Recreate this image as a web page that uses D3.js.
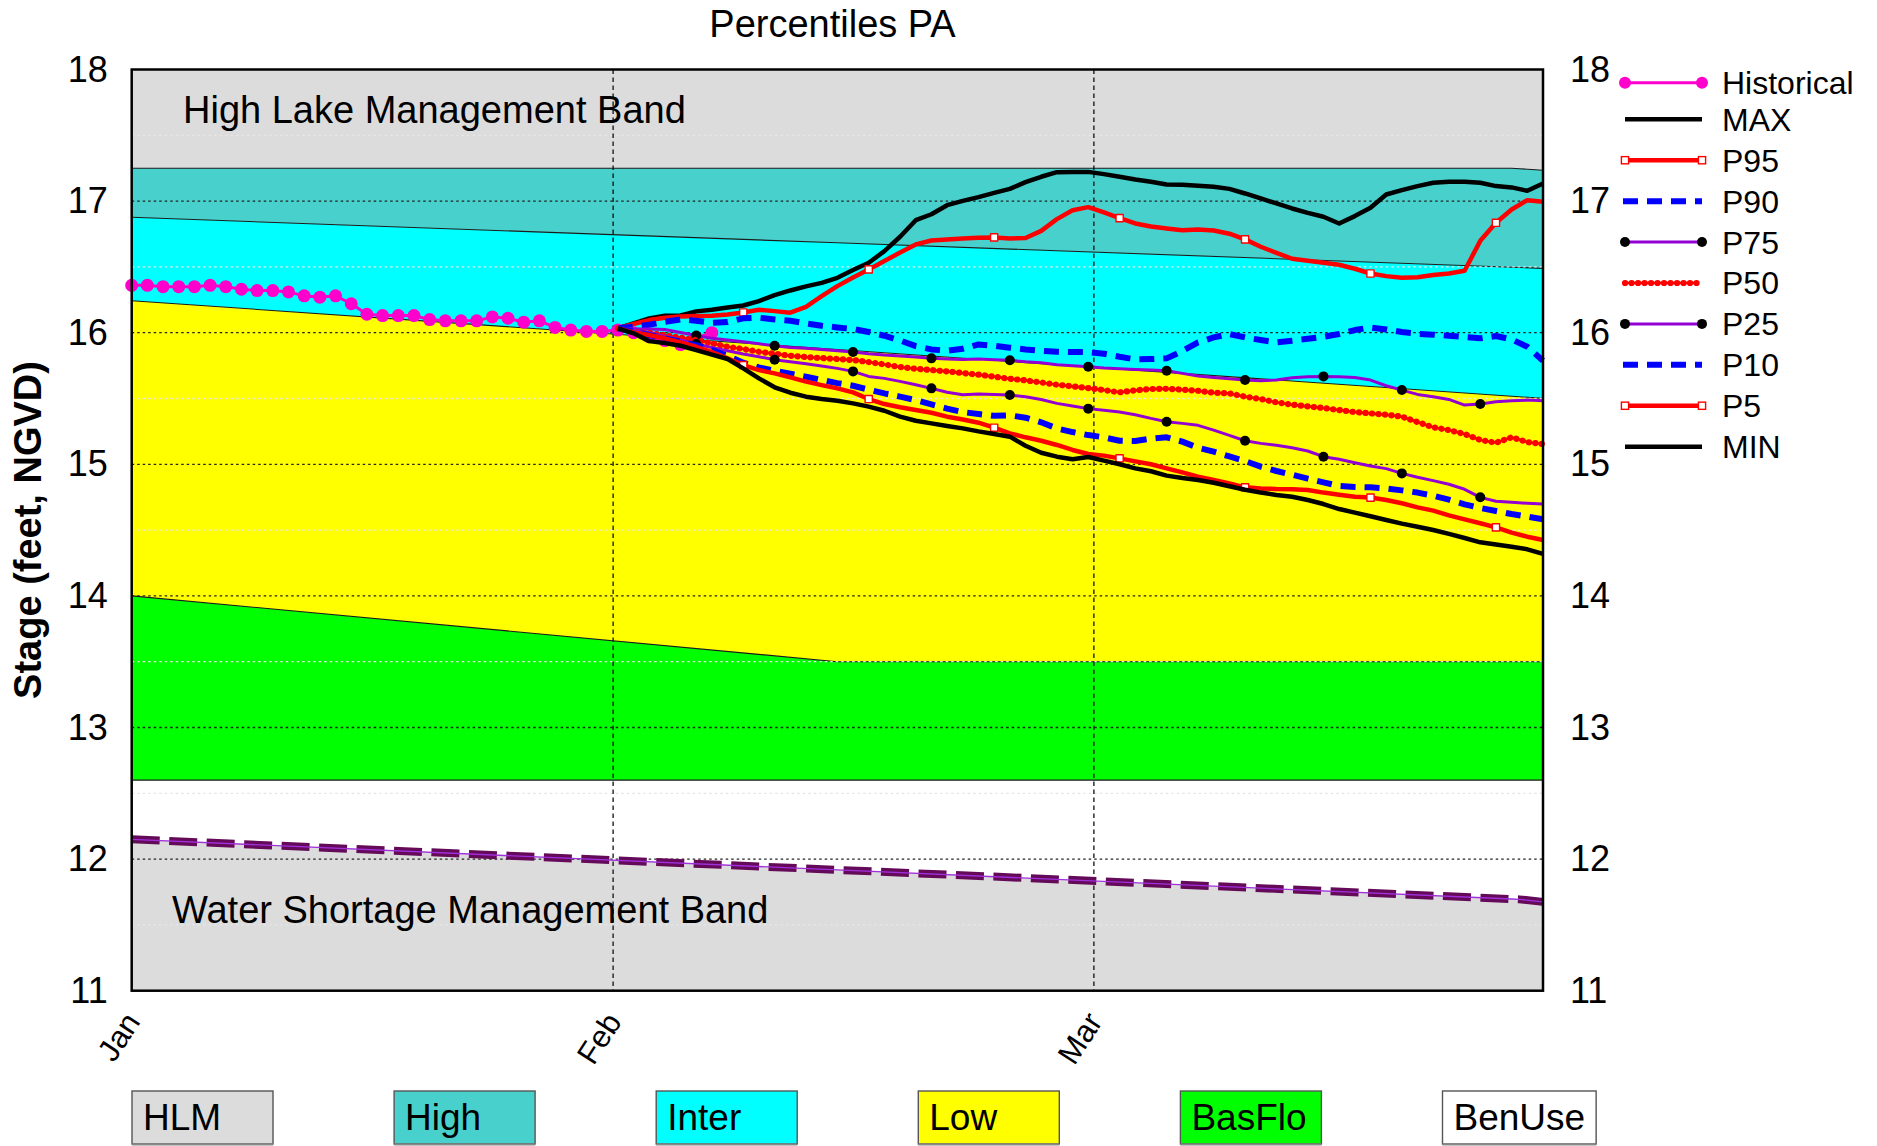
<!DOCTYPE html>
<html><head><meta charset="utf-8">
<script src="https://cdn.jsdelivr.net/npm/d3@7"></script>
<style>
body{margin:0;background:#fff;}
svg{display:block;font-family:"Liberation Sans",Arial,sans-serif;}
</style>
</head><body>
<svg id="c" width="1877" height="1146"></svg>
<script>
// ---------------- DATA ----------------
const chartTitle = "Percentiles PA";
const yLabel = "Stage (feet, NGVD)";
const yTicks = [11, 12, 13, 14, 15, 16, 17, 18];
const monthLabels = ["Jan", "Feb", "Mar"];
const monthDays = [0, 30.7, 61.36];
const dayDomain = [0, 90];

// historical daily stage from Jan 1 (day 0)
const historical = [16.36, 16.36, 16.35, 16.35, 16.35, 16.36, 16.35, 16.33, 16.32, 16.32,
  16.31, 16.28, 16.27, 16.28, 16.22, 16.14, 16.13, 16.13, 16.13, 16.10,
  16.09, 16.09, 16.09, 16.12, 16.11, 16.08, 16.09, 16.04, 16.02, 16.01,
  16.01, 16.02, 16.00, 15.97, 15.94, 15.91, 15.96, 16.00];

// percentile series, daily, starting at day 31
const percentileStartDay = 31;
const maxVals = [16.033, 16.071, 16.109, 16.129, 16.131, 16.162, 16.174, 16.192, 16.207, 16.240,
  16.286, 16.321, 16.352, 16.379, 16.417, 16.476, 16.531, 16.620, 16.729, 16.855,
  16.900, 16.969, 17.002, 17.030, 17.063, 17.093, 17.144, 17.185, 17.220, 17.222,
  17.222, 17.205, 17.185, 17.164, 17.147, 17.126, 17.124, 17.116, 17.109, 17.093,
  17.058, 17.020, 16.982, 16.944, 16.911, 16.881, 16.830, 16.886, 16.949, 17.050,
  17.083, 17.114, 17.139, 17.147, 17.147, 17.139, 17.114, 17.104, 17.078, 17.134];
const p95Vals = [16.033, 16.066, 16.096, 16.114, 16.124, 16.126, 16.129, 16.139, 16.154, 16.174,
  16.164, 16.152, 16.197, 16.278, 16.354, 16.420, 16.481, 16.544, 16.610, 16.671,
  16.701, 16.709, 16.716, 16.721, 16.724, 16.716, 16.719, 16.774, 16.863, 16.931,
  16.954, 16.914, 16.871, 16.830, 16.807, 16.792, 16.779, 16.785, 16.777, 16.752,
  16.709, 16.653, 16.607, 16.562, 16.547, 16.531, 16.516, 16.486, 16.450, 16.430,
  16.417, 16.422, 16.438, 16.450, 16.471, 16.698, 16.835, 16.936, 17.007, 16.995];
const p90Vals = [16.033, 16.045, 16.060, 16.083, 16.101, 16.091, 16.076, 16.081, 16.109, 16.114,
  16.101, 16.091, 16.071, 16.053, 16.040, 16.028, 16.005, 15.977, 15.941, 15.898,
  15.873, 15.863, 15.878, 15.911, 15.901, 15.886, 15.873, 15.863, 15.855, 15.853,
  15.853, 15.840, 15.817, 15.797, 15.800, 15.805, 15.860, 15.926, 15.964, 15.990,
  15.964, 15.944, 15.926, 15.939, 15.954, 15.969, 15.990, 16.020, 16.040, 16.025,
  16.005, 15.992, 15.985, 15.977, 15.967, 15.957, 15.975, 15.949, 15.893, 15.787];
const p75Vals = [16.033, 16.028, 16.028, 16.025, 16.002, 15.979, 15.957, 15.944, 15.931, 15.916,
  15.901, 15.888, 15.881, 15.873, 15.863, 15.853, 15.840, 15.830, 15.823, 15.815,
  15.805, 15.800, 15.797, 15.800, 15.795, 15.790, 15.779, 15.772, 15.757, 15.749,
  15.741, 15.731, 15.726, 15.721, 15.716, 15.711, 15.691, 15.671, 15.660, 15.650,
  15.640, 15.635, 15.640, 15.658, 15.666, 15.668, 15.666, 15.660, 15.640, 15.597,
  15.564, 15.531, 15.514, 15.493, 15.450, 15.458, 15.476, 15.483, 15.488, 15.483];
const p50Vals = [16.033, 16.007, 15.997, 15.982, 15.964, 15.944, 15.919, 15.893, 15.876, 15.855,
  15.840, 15.825, 15.815, 15.807, 15.800, 15.792, 15.777, 15.759, 15.739, 15.726,
  15.716, 15.706, 15.693, 15.681, 15.666, 15.650, 15.638, 15.622, 15.605, 15.592,
  15.579, 15.564, 15.547, 15.562, 15.572, 15.574, 15.567, 15.559, 15.544, 15.539,
  15.514, 15.496, 15.471, 15.453, 15.440, 15.428, 15.412, 15.397, 15.387, 15.377,
  15.362, 15.321, 15.281, 15.260, 15.230, 15.185, 15.164, 15.205, 15.169, 15.154];
const p25Vals = [16.033, 16.017, 16.000, 15.972, 15.944, 15.914, 15.888, 15.863, 15.838, 15.817,
  15.795, 15.779, 15.764, 15.747, 15.729, 15.706, 15.668, 15.653, 15.630, 15.605,
  15.577, 15.547, 15.529, 15.534, 15.531, 15.526, 15.514, 15.493, 15.463, 15.443,
  15.423, 15.410, 15.397, 15.377, 15.349, 15.324, 15.311, 15.296, 15.260, 15.220,
  15.179, 15.159, 15.144, 15.126, 15.101, 15.058, 15.038, 15.012, 14.987, 14.967,
  14.931, 14.901, 14.876, 14.848, 14.810, 14.749, 14.719, 14.711, 14.704, 14.698];
const p10Vals = [16.033, 16.007, 15.982, 15.957, 15.931, 15.906, 15.868, 15.825, 15.772, 15.736,
  15.711, 15.688, 15.666, 15.640, 15.617, 15.597, 15.567, 15.539, 15.514, 15.488,
  15.455, 15.423, 15.397, 15.382, 15.369, 15.372, 15.354, 15.319, 15.273, 15.245,
  15.222, 15.205, 15.179, 15.177, 15.195, 15.205, 15.172, 15.126, 15.096, 15.060,
  15.025, 14.982, 14.949, 14.921, 14.891, 14.863, 14.835, 14.828, 14.825, 14.817,
  14.802, 14.785, 14.762, 14.731, 14.696, 14.668, 14.645, 14.622, 14.602, 14.582];
const p5Vals = [16.033, 16.002, 15.982, 15.957, 15.926, 15.893, 15.853, 15.805, 15.754, 15.716,
  15.691, 15.660, 15.628, 15.602, 15.577, 15.547, 15.496, 15.458, 15.433, 15.412,
  15.392, 15.362, 15.341, 15.316, 15.278, 15.235, 15.205, 15.179, 15.147, 15.109,
  15.078, 15.066, 15.045, 15.022, 15.000, 14.969, 14.939, 14.906, 14.881, 14.855,
  14.825, 14.817, 14.812, 14.810, 14.805, 14.785, 14.769, 14.754, 14.747, 14.729,
  14.704, 14.673, 14.648, 14.612, 14.582, 14.552, 14.521, 14.481, 14.450, 14.425];
const minVals = [16.033, 15.995, 15.936, 15.921, 15.901, 15.868, 15.833, 15.800, 15.729, 15.653,
  15.585, 15.544, 15.514, 15.496, 15.483, 15.463, 15.438, 15.407, 15.362, 15.331,
  15.311, 15.291, 15.273, 15.250, 15.230, 15.210, 15.141, 15.088, 15.058, 15.038,
  15.055, 15.028, 15.000, 14.969, 14.947, 14.914, 14.896, 14.881, 14.860, 14.833,
  14.807, 14.785, 14.767, 14.754, 14.729, 14.698, 14.660, 14.633, 14.605, 14.577,
  14.549, 14.526, 14.501, 14.471, 14.440, 14.407, 14.390, 14.374, 14.354, 14.319];

// management band boundaries: [day, stage]
const hlmBottom = [[0, 17.25], [88, 17.25], [90, 17.235]];
const highBottom = [[0, 16.877], [90, 16.489]];
const interBottom = [[0, 16.243], [90, 15.501]];
const lowBottom = [[0, 14.0], [45, 13.5], [90, 13.5]];
const basFloBottom = [[0, 12.6], [90, 12.6]];
const wsmLine = [[0, 12.15], [88.5, 11.694], [90, 11.675]];

const bandNames = ["HLM", "High", "Inter", "Low", "BasFlo", "BenUse"];
const bandLabelTop = "High Lake Management Band";
const bandLabelBottom = "Water Shortage Management Band";
const seriesNames = ["Historical", "MAX", "P95", "P90", "P75", "P50", "P25", "P10", "P5", "MIN"];

// ---------------- CHART ----------------
const svg = d3.select("#c");
const L = 131.7, R = 1543, T = 69.5, B = 990.7;
const x = d3.scaleLinear().domain(dayDomain).range([L, R]);
const y = d3.scaleLinear().domain([11, 18]).range([B, T]);

const interp = pts => d3.scaleLinear().domain(pts.map(p => p[0])).range(pts.map(p => p[1]));
const fHLM = interp(hlmBottom), fHigh = interp(highBottom), fInter = interp(interBottom),
      fLow = interp(lowBottom), fBas = interp(basFloBottom), fWsm = interp(wsmLine);
const allDays = Array.from(new Set([].concat(hlmBottom, highBottom, interBottom, lowBottom, basFloBottom, wsmLine).map(p => p[0]))).sort((a, b) => a - b);

const bandColors = {HLM: "#dcdcdc", High: "#48d1cc", Inter: "#00ffff", Low: "#ffff00", BasFlo: "#00ff00", BenUse: "#ffffff", WSM: "#dcdcdc"};
const bandDefs = [
  {c: bandColors.HLM, top: () => 18, bot: fHLM},
  {c: bandColors.High, top: fHLM, bot: fHigh},
  {c: bandColors.Inter, top: fHigh, bot: fInter},
  {c: bandColors.Low, top: fInter, bot: fLow},
  {c: bandColors.BasFlo, top: fLow, bot: fBas},
  {c: bandColors.BenUse, top: fBas, bot: fWsm},
  {c: bandColors.WSM, top: fWsm, bot: () => 11}
];
const gBands = svg.append("g");
bandDefs.forEach(b => {
  gBands.append("path")
    .attr("d", d3.area().x(d => x(d)).y0(d => y(b.bot(d))).y1(d => y(b.top(d)))(allDays))
    .attr("fill", b.c).attr("stroke", "none");
});
[fHLM, fHigh, fInter, fLow, fBas].forEach(f => {
  gBands.append("path")
    .attr("d", d3.line().x(d => x(d)).y(d => y(f(d)))(allDays))
    .attr("fill", "none").attr("stroke", "#1a1a1a").attr("stroke-width", 1.1);
});

// grid
const gGrid = svg.append("g");
d3.range(11.5, 18, 1).forEach(v => {
  gGrid.append("line").attr("x1", L).attr("x2", R).attr("y1", y(v)).attr("y2", y(v))
    .attr("stroke", "#e6e6e6").attr("stroke-width", 1.3).attr("stroke-dasharray", "2.5,3");
});
yTicks.filter(v => v > 11 && v < 18).forEach(v => {
  gGrid.append("line").attr("x1", L).attr("x2", R).attr("y1", y(v)).attr("y2", y(v))
    .attr("stroke", "#222").attr("stroke-width", 1.3).attr("stroke-dasharray", "2.5,3");
});
monthDays.slice(1).forEach(d => {
  gGrid.append("line").attr("x1", x(d)).attr("x2", x(d)).attr("y1", T).attr("y2", B)
    .attr("stroke", "#111").attr("stroke-width", 1.3).attr("stroke-dasharray", "4.5,3.5");
});

// water shortage line
const wsmPath = d3.line().x(d => x(d)).y(d => y(fWsm(d)))(allDays);
svg.append("path").attr("d", wsmPath).attr("fill", "none")
  .attr("stroke", "#640a58").attr("stroke-width", 8).attr("stroke-dasharray", "28,9.5");
svg.append("path").attr("d", wsmPath).attr("fill", "none")
  .attr("stroke", "#a030dc").attr("stroke-width", 1.4);

// band labels
svg.append("text").attr("x", 183).attr("y", 123).attr("font-size", 38).text(bandLabelTop);
svg.append("text").attr("x", 172).attr("y", 923).attr("font-size", 38).text(bandLabelBottom);

// series
const toPts = (vals, start) => vals.map((v, i) => [start + i, v]);
const line = d3.line().x(d => x(d[0])).y(d => y(d[1]));
const gS = svg.append("g").attr("fill", "none").attr("stroke-linejoin", "round");

const histPts = toPts(historical, 0);
gS.append("path").attr("d", line(histPts)).attr("stroke", "#ff00cc").attr("stroke-width", 3);
gS.selectAll(".hd").data(histPts).enter().append("circle")
  .attr("cx", d => x(d[0])).attr("cy", d => y(d[1])).attr("r", 6.5).attr("fill", "#ff00cc");

const styles = {
  MAX: {c: "#000", w: 4.5},
  P95: {c: "#ff0000", w: 4.5, marker: "square", every: 8},
  P90: {c: "#0000ff", w: 6, dash: "15,9"},
  P75: {c: "#9400d3", w: 3, marker: "dot", every: 5},
  P50: {c: "#ff0000", w: 6.2, dotted: true},
  P25: {c: "#9400d3", w: 3, marker: "dot", every: 5},
  P10: {c: "#0000ff", w: 6, dash: "15,9"},
  P5: {c: "#ff0000", w: 4.5, marker: "square", every: 8},
  MIN: {c: "#000", w: 4.5}
};
const seriesVals = {MAX: maxVals, P95: p95Vals, P90: p90Vals, P75: p75Vals, P50: p50Vals,
  P25: p25Vals, P10: p10Vals, P5: p5Vals, MIN: minVals};

function drawMarker(g, kind, cx, cy) {
  if (kind === "dot") g.append("circle").attr("cx", cx).attr("cy", cy).attr("r", 5).attr("fill", "#000").attr("stroke", "none");
  if (kind === "square") g.append("rect").attr("x", cx - 3.6).attr("y", cy - 3.6).attr("width", 7.2).attr("height", 7.2)
    .attr("fill", "#fff").attr("stroke", "#ff0000").attr("stroke-width", 1.4);
}
function strokeStyle(sel, s) {
  sel.attr("stroke", s.c).attr("stroke-width", s.w).attr("fill", "none");
  if (s.dash) sel.attr("stroke-dasharray", s.dash);
  if (s.dotted) sel.attr("stroke-dasharray", "0.1,6.4").attr("stroke-linecap", "round");
}

seriesNames.slice(1).forEach(name => {
  const s = styles[name];
  const pts = toPts(seriesVals[name], percentileStartDay);
  if (s.dotted) gS.append("path").attr("d", line(pts)).attr("stroke", s.c).attr("stroke-width", 2.6);
  strokeStyle(gS.append("path").attr("d", line(pts)), s);
  if (s.marker) {
    pts.filter(p => p[0] > percentileStartDay && (p[0] - percentileStartDay) % s.every === 0)
      .forEach(p => drawMarker(gS, s.marker, x(p[0]), y(p[1])));
  }
});

// frame
svg.append("rect").attr("x", L).attr("y", T).attr("width", R - L).attr("height", B - T)
  .attr("fill", "none").attr("stroke", "#000").attr("stroke-width", 2.5);

// axes
const axL = svg.append("g").attr("transform", `translate(${L},0)`)
  .call(d3.axisLeft(y).tickValues(yTicks).tickFormat(d3.format("d")).tickSize(0).tickPadding(24));
const axR = svg.append("g").attr("transform", `translate(${R},0)`)
  .call(d3.axisRight(y).tickValues(yTicks).tickFormat(d3.format("d")).tickSize(0).tickPadding(27));
[axL, axR].forEach(a => {
  a.select(".domain").remove();
  a.selectAll("text").attr("font-size", 36).attr("font-family", "Liberation Sans, Arial, sans-serif").attr("fill", "#000");
});
const axB = svg.append("g").attr("transform", `translate(0,${B})`)
  .call(d3.axisBottom(x).tickValues(monthDays).tickFormat((d, i) => monthLabels[i]).tickSize(0));
axB.select(".domain").remove();
axB.selectAll("text").attr("font-size", 31).attr("font-family", "Liberation Sans, Arial, sans-serif").attr("fill", "#000")
  .attr("y", 0).attr("dy", 0).attr("text-anchor", "end")
  .attr("transform", "translate(9,31) rotate(-57)");

// titles
svg.append("text").attr("x", 832.5).attr("y", 37).attr("text-anchor", "middle").attr("font-size", 38).text(chartTitle);
svg.append("text").attr("transform", "translate(41,530) rotate(-90)").attr("text-anchor", "middle")
  .attr("font-size", 38).attr("font-weight", "bold").text(yLabel);

// right legend
const gLeg = svg.append("g");
seriesNames.forEach((name, i) => {
  const yy = i === 0 ? 82.7 : 119.3 + (i - 1) * 40.92;
  const x1 = 1625, x2 = 1702;
  if (name === "Historical") {
    gLeg.append("line").attr("x1", x1).attr("x2", x2).attr("y1", yy).attr("y2", yy).attr("stroke", "#ff00cc").attr("stroke-width", 3);
    [x1, x2].forEach(cx => gLeg.append("circle").attr("cx", cx).attr("cy", yy).attr("r", 6).attr("fill", "#ff00cc"));
  } else {
    const s = styles[name];
    if (s.dotted) gLeg.append("line").attr("x1", x1).attr("x2", x2 - 3).attr("y1", yy).attr("y2", yy).attr("stroke", s.c).attr("stroke-width", 2.6);
    strokeStyle(gLeg.append("line").attr("x1", x1 - (s.dash ? 2 : 0)).attr("x2", s.dotted ? x2 - 3 : x2).attr("y1", yy).attr("y2", yy), s);
    if (s.marker) [x1, x2].forEach(cx => drawMarker(gLeg, s.marker, cx, yy));
  }
  gLeg.append("text").attr("x", 1722).attr("y", yy + 11.5).attr("font-size", 32).text(name);
});

// bottom band legend
const gB = svg.append("g");
bandNames.forEach((name, i) => {
  const bx = 132 + i * 262.1;
  const t = gB.append("text").attr("x", bx + 11).attr("y", 1130).attr("font-size", 37).text(name);
  const tw = t.node().getComputedTextLength();
  const w = Math.max(141, tw + 22);
  gB.insert("rect", "text").attr("x", bx).attr("y", 1091).attr("width", w).attr("height", 53)
    .attr("fill", bandColors[name]).attr("stroke", "#555").attr("stroke-width", 1.4);
  gB.insert("line", "text").attr("x1", bx).attr("x2", bx + w).attr("y1", 1144.5).attr("y2", 1144.5)
    .attr("stroke", "#888").attr("stroke-width", 2);
});
</script>
</body></html>
